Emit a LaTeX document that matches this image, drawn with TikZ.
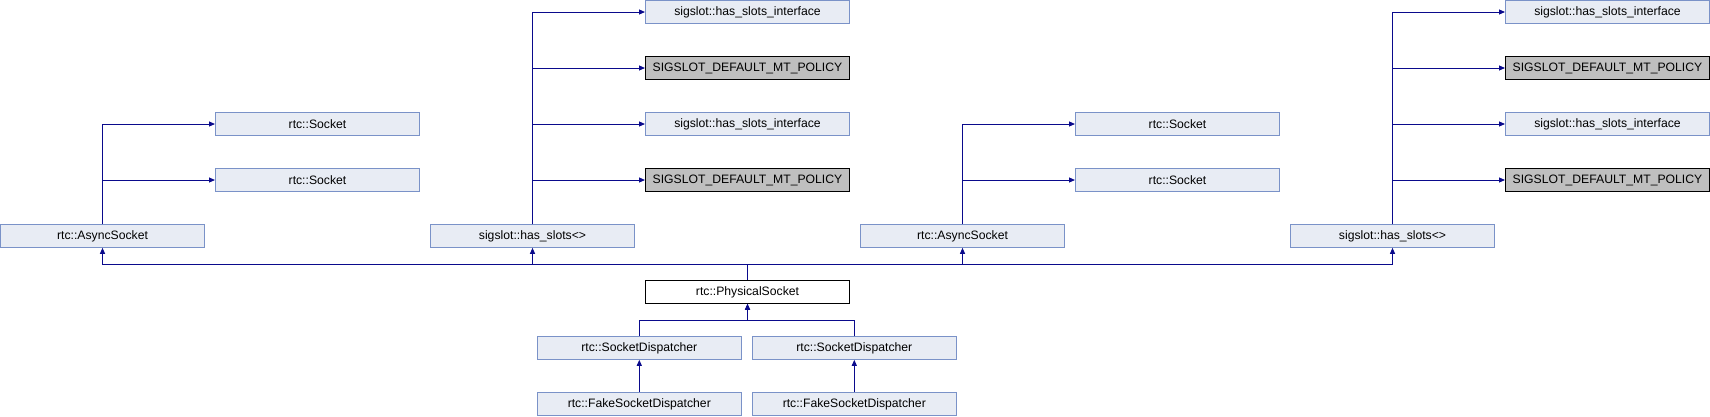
\documentclass[tikz,border=0pt]{standalone}
\usepackage{fontspec}
\setmainfont{Liberation Sans}
\usetikzlibrary{arrows.meta}
\definecolor{boxfill}{RGB}{232,236,244}
\definecolor{boxline}{RGB}{122,146,200}
\definecolor{edgeblue}{RGB}{10,10,140}
\definecolor{greyfill}{RGB}{191,191,191}
\begin{document}
\begin{tikzpicture}[x=1pt,y=-1pt,
		cls/.style={draw=boxline,fill=boxfill,line width=1pt,minimum width=204pt,minimum height=22.6pt,inner sep=0pt,font=\fontsize{12.2}{14}\selectfont},
		ext/.style={cls,draw=black,fill=greyfill},
		main/.style={cls,draw=black,fill=white},
		edge/.style={draw=edgeblue,line width=1pt,-{Triangle[length=6pt,width=5pt]}}]
			\useasboundingbox (0,0) rectangle (1710,416);
			% left half
			\node[cls] (async1) at (102.5,236) {rtc::AsyncSocket};
			\node[cls] (sockA) at (317.5,124) {rtc::Socket};
			\node[cls] (sockB) at (317.5,180) {rtc::Socket};
			\node[cls] (slots1) at (532.5,236) {sigslot::has\_slots<>};
			\node[cls] (ifaceA) at (747.5,12) {sigslot::has\_slots\_interface};
			\node[ext] (policyA) at (747.5,68) {SIGSLOT\_DEFAULT\_MT\_POLICY};
			\node[cls] (ifaceB) at (747.5,124) {sigslot::has\_slots\_interface};
			\node[ext] (policyB) at (747.5,180) {SIGSLOT\_DEFAULT\_MT\_POLICY};
			% right half
			\node[cls] (async2) at (962.5,236) {rtc::AsyncSocket};
			\node[cls] (sockC) at (1177.5,124) {rtc::Socket};
			\node[cls] (sockD) at (1177.5,180) {rtc::Socket};
			\node[cls] (slots2) at (1392.5,236) {sigslot::has\_slots<>};
			\node[cls] (ifaceC) at (1607.5,12) {sigslot::has\_slots\_interface};
			\node[ext] (policyC) at (1607.5,68) {SIGSLOT\_DEFAULT\_MT\_POLICY};
			\node[cls] (ifaceD) at (1607.5,124) {sigslot::has\_slots\_interface};
			\node[ext] (policyD) at (1607.5,180) {SIGSLOT\_DEFAULT\_MT\_POLICY};
			% bottom
			\node[main] (phys) at (747.5,292) {rtc::PhysicalSocket};
			\node[cls] (dispA) at (639.3,348) {rtc::SocketDispatcher};
			\node[cls] (dispB) at (854.3,348) {rtc::SocketDispatcher};
			\node[cls] (fakeA) at (639.3,404) {rtc::FakeSocketDispatcher};
			\node[cls] (fakeB) at (854.3,404) {rtc::FakeSocketDispatcher};
			\coordinate (bus) at (747.5,264.3);
			\coordinate (split) at (747.5,320.3);
			% edges
			\draw[edge] (async1.north) |- (sockA.west);
			\draw[edge] (async1.north) |- (sockB.west);
			\draw[edge] (slots1.north) |- (ifaceA.west);
			\draw[edge] (slots1.north) |- (policyA.west);
			\draw[edge] (slots1.north) |- (ifaceB.west);
			\draw[edge] (slots1.north) |- (policyB.west);
			\draw[edge] (async2.north) |- (sockC.west);
			\draw[edge] (async2.north) |- (sockD.west);
			\draw[edge] (slots2.north) |- (ifaceC.west);
			\draw[edge] (slots2.north) |- (policyC.west);
			\draw[edge] (slots2.north) |- (ifaceD.west);
			\draw[edge] (slots2.north) |- (policyD.west);
			\draw[edge] (phys.north) -- (bus) -| (async1.south);
			\draw[edge] (bus) -| (slots1.south);
			\draw[edge] (bus) -| (async2.south);
			\draw[edge] (bus) -| (slots2.south);
			\draw[edge] (dispA.north) |- (split) -- (phys.south);
			\draw[edge] (dispB.north) |- (split) -- (phys.south);
			\draw[edge] (fakeA) -- (dispA);
			\draw[edge] (fakeB) -- (dispB);
	\end{tikzpicture}
\end{document}
